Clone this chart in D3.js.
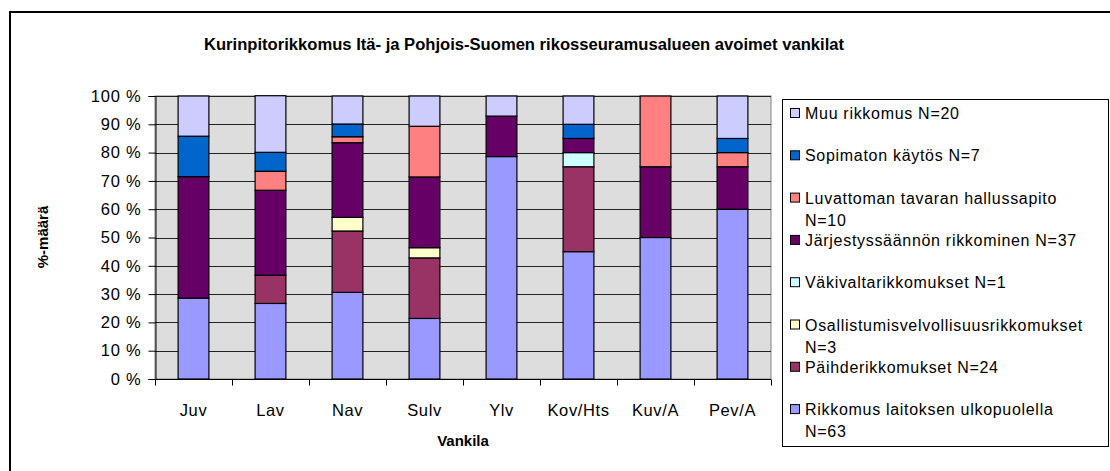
<!DOCTYPE html>
<html>
<head>
<meta charset="utf-8">
<script src="https://cdn.jsdelivr.net/npm/d3@7"></script>
<style>
  body { margin: 0; background: #fff; }
  svg { display: block; font-family: "Liberation Sans", Arial, sans-serif; }
</style>
</head>
<body>
<svg class="container" width="1110" height="471"></svg>
<script>
let categories = ["Juv", "Lav", "Nav", "Sulv", "Ylv", "Kov/Hts", "Kuv/A", "Pev/A"];
let yTicks = [0, 10, 20, 30, 40, 50, 60, 70, 80, 90, 100];

// series, bottom of the stack first
let rikkomus = [28.6, 26.7, 30.6, 21.4, 78.6, 45, 50, 60];
let paihde = [0, 10, 21.7, 21.4, 0, 30, 0, 0];
let osallistumis = [0, 0, 4.8, 3.6, 0, 0, 0, 0];
let vakivalta = [0, 0, 0, 0, 0, 5, 0, 0];
let jarjestys = [42.9, 30, 26.4, 25, 14.3, 5, 25, 15];
let luvaton = [0, 6.7, 2.1, 17.9, 0, 0, 25, 5];
let sopimaton = [14.3, 6.7, 4.5, 0, 0, 5, 0, 5];
let muu = [14.2, 20, 9.9, 10.7, 7.1, 10, 0, 15];

let seriesNames = ["rikkomus", "paihde", "osallistumis", "vakivalta", "jarjestys", "luvaton", "sopimaton", "muu"];
let seriesValues = [rikkomus, paihde, osallistumis, vakivalta, jarjestys, luvaton, sopimaton, muu];
let seriesColors = ["#9999FF", "#993366", "#FFFFCC", "#CCFFFF", "#660066", "#FF8080", "#0066CC", "#CCCCFF"];
let seriesLabels = [
    ["Rikkomus laitoksen ulkopuolella", "N=63"],
    ["Päihderikkomukset N=24"],
    ["Osallistumisvelvollisuusrikkomukset", "N=3"],
    ["Väkivaltarikkomukset N=1"],
    ["Järjestyssäännön rikkominen N=37"],
    ["Luvattoman tavaran hallussapito", "N=10"],
    ["Sopimaton käytös N=7"],
    ["Muu rikkomus N=20"]
];

let plot = { left: 155, right: 771, top: 96, bottom: 379 };
let svg = d3.select(".container");

// outer chart frame
svg.append("rect")
    .attr("x", 10).attr("y", 12)
    .attr("width", 1110).attr("height", 480)
    .attr("fill", "none")
    .attr("stroke", "#000")
    .attr("stroke-width", 2);

let table = categories.map((c, i) => {
    let row = { cat: c };
    seriesNames.forEach((s, j) => { row[s] = seriesValues[j][i]; });
    return row;
});
let stacked = d3.stack().keys(seriesNames)(table);

let x = d3.scaleBand().domain(categories).range([plot.left, plot.right]).paddingInner(0.6).paddingOuter(0.3);
let xEdges = d3.scaleBand().domain(categories).range([plot.left, plot.right]);
let y = d3.scaleLinear().domain([0, 100]).range([plot.bottom, plot.top]);

svg.append("rect")
    .attr("x", plot.left).attr("y", plot.top)
    .attr("width", plot.right - plot.left).attr("height", plot.bottom - plot.top)
    .attr("fill", "#DDDDDD")
    .attr("stroke", "#808080");

svg.append("g")
    .selectAll("line")
    .data(yTicks)
    .enter()
    .append("line")
    .attr("x1", plot.left).attr("x2", plot.right)
    .attr("y1", d => Math.round(y(d)) + 0.5)
    .attr("y2", d => Math.round(y(d)) + 0.5)
    .style("stroke", "#222")
    .style("stroke-width", 1);

svg.append("g")
    .selectAll("g")
    .data(stacked)
    .enter()
    .append("g")
    .attr("fill", (d, i) => seriesColors[i])
    .selectAll("rect")
    .data(d => d.filter(p => p[1] - p[0] > 0))
    .enter()
    .append("rect")
    .attr("x", d => x(d.data.cat))
    .attr("width", x.bandwidth())
    .attr("y", d => y(d[1]))
    .attr("height", d => y(d[0]) - y(d[1]))
    .style("stroke", "#000")
    .style("stroke-width", 1.2);

// y axis
let yAxis = d3.axisLeft(y).tickValues(yTicks).tickSize(7).tickPadding(7).tickFormat(d => d + " %");
let yg = svg.append("g").attr("transform", `translate(${plot.left + 0.5},0)`).call(yAxis);
yg.select(".domain").attr("stroke", "#000");
yg.selectAll("line").attr("stroke", "#000");
yg.selectAll("text")
    .style("font-size", "16.5px")
    .style("letter-spacing", "0.8px")
    .attr("fill", "#000")
    .attr("font-family", "Liberation Sans");

// x axis with ticks at category boundaries
let xg = svg.append("g").attr("transform", `translate(0,${plot.bottom + 0.5})`);
xg.append("line").attr("x1", plot.left).attr("x2", plot.right).attr("stroke", "#000");
xg.selectAll(".edge")
    .data(categories.concat(["end"]))
    .enter()
    .append("line")
    .attr("x1", (d, i) => plot.left + i * xEdges.step() + 0.5)
    .attr("x2", (d, i) => plot.left + i * xEdges.step() + 0.5)
    .attr("y1", 0).attr("y2", 6)
    .attr("stroke", "#000");
xg.selectAll("text")
    .data(categories)
    .enter()
    .append("text")
    .attr("x", d => x(d) + x.bandwidth() / 2)
    .attr("y", 36)
    .attr("text-anchor", "middle")
    .style("font-size", "16.5px")
    .style("letter-spacing", "0.6px")
    .text(d => d);

// titles
svg.append("text")
    .attr("x", 524).attr("y", 50)
    .attr("text-anchor", "middle")
    .attr("textLength", 640)
    .attr("lengthAdjust", "spacingAndGlyphs")
    .style("font-size", "16px")
    .style("font-weight", "bold")
    .text("Kurinpitorikkomus Itä- ja Pohjois-Suomen rikosseuramusalueen avoimet vankilat");

svg.append("text")
    .attr("x", (plot.left + plot.right) / 2).attr("y", 446)
    .attr("text-anchor", "middle")
    .style("font-size", "15px")
    .style("font-weight", "bold")
    .text("Vankila");

svg.append("text")
    .attr("transform", "translate(48,237) rotate(-90)")
    .attr("text-anchor", "middle")
    .style("font-size", "15px")
    .style("font-weight", "bold")
    .text("%-määrä");

// legend, top item is the last series
let legend = svg.append("g");
legend.append("rect")
    .attr("x", 782.5).attr("y", 99.5)
    .attr("width", 326).attr("height", 347)
    .attr("fill", "#fff")
    .attr("stroke", "#000");

let legendOrder = d3.range(seriesNames.length).reverse();
let items = legend.selectAll(".item")
    .data(legendOrder)
    .enter()
    .append("g")
    .attr("transform", (d, i) => `translate(790,${113 + i * 42.3})`);
items.append("rect")
    .attr("x", 0.5).attr("y", -4.5)
    .attr("width", 9).attr("height", 9)
    .attr("fill", d => seriesColors[d])
    .attr("stroke", "#000");
items.each(function (d) {
    d3.select(this).selectAll("text")
        .data(seriesLabels[d])
        .enter()
        .append("text")
        .attr("x", 15)
        .attr("y", (t, k) => 6 + k * 22)
        .style("font-size", "16px")
        .style("letter-spacing", "0.7px")
        .text(t => t);
});
</script>
</body>
</html>
